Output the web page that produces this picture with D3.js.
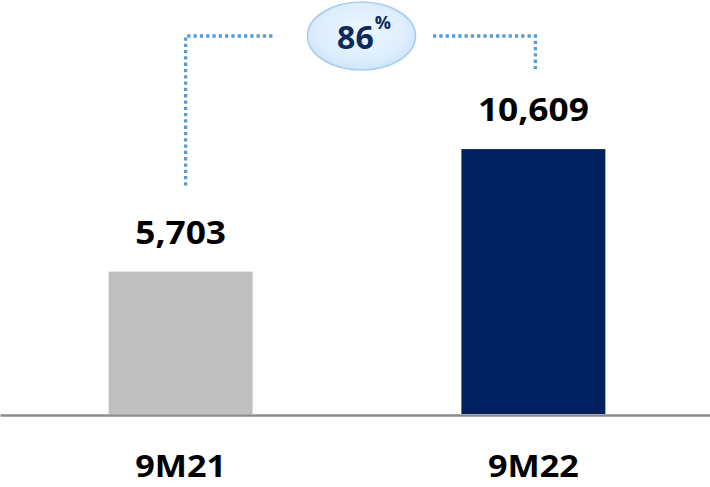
<!DOCTYPE html>
<html>
<head>
<meta charset="utf-8">
<script src="https://cdn.jsdelivr.net/npm/d3@7"></script>
<style>
  html, body { margin: 0; padding: 0; background: #fff; }
  svg { display: block; }
  text { font-family: "Open Sans", "Liberation Sans", sans-serif; font-weight: 700; }
</style>
</head>
<body>
<svg id="chart" width="710" height="487"></svg>
<script>
// Nine-month totals
const periods = ["9M21", "9M22"];
const totals = [5703, 10609];
const barColors = ["#bfbfbf", "#00205f"];

const W = 710, H = 487;
const baseY = 414;
const svg = d3.select("#chart");

const x = d3.scaleBand()
  .domain(periods)
  .range([0, 714])
  .paddingInner(0.592)
  .paddingOuter(0.308);

const y = d3.scaleLinear()
  .domain([0, 16580])
  .range([baseY, 0]);

const fmt = d3.format(",");
const stretch = 1.12;

// widen a bold label horizontally around its anchor
function widen(sel) {
  sel.each(function () {
    const w = this.getComputedTextLength();
    d3.select(this)
      .attr("textLength", w * stretch)
      .attr("lengthAdjust", "spacingAndGlyphs");
  });
}

const data = periods.map((p, i) => ({ period: p, value: totals[i], color: barColors[i] }));

// bars
svg.selectAll("rect.bar")
  .data(data)
  .join("rect")
  .attr("class", "bar")
  .attr("x", d => x(d.period))
  .attr("width", x.bandwidth())
  .attr("y", d => y(d.value))
  .attr("height", d => baseY - y(d.value))
  .attr("fill", d => d.color);

// baseline axis
const axis = svg.append("g")
  .attr("transform", `translate(0,${baseY + 1})`)
  .call(d3.axisBottom(d3.scaleLinear().range([0, W])).ticks(0).tickSize(0).tickFormat(""));
axis.select(".domain").attr("stroke", "#8c8c8c").attr("stroke-width", 2.6);

// value labels
svg.selectAll("text.value")
  .data(data)
  .join("text")
  .attr("class", "value")
  .attr("x", d => x(d.period) + x.bandwidth() / 2)
  .attr("y", d => y(d.value) - 28)
  .attr("text-anchor", "middle")
  .attr("font-size", 31.5)
  .attr("fill", "#000")
  .text(d => fmt(d.value))
  .call(widen);

// category labels
svg.selectAll("text.cat")
  .data(data)
  .join("text")
  .attr("class", "cat")
  .attr("x", d => x(d.period) + x.bandwidth() / 2)
  .attr("y", 477)
  .attr("text-anchor", "middle")
  .attr("font-size", 30.5)
  .attr("fill", "#000")
  .text(d => d.period)
  .call(widen);

// growth connector
const growth = Math.round((totals[1] / totals[0] - 1) * 100);
const cx0 = x(periods[0]) + x.bandwidth() / 2 + 5;
const cx1 = x(periods[1]) + x.bandwidth() / 2 + 2;
const topY = 36;
const bubbleX = 361.5;
const bubbleRx = 54, bubbleRy = 34;

const dotStyle = g => g
  .attr("fill", "none")
  .attr("stroke", "#5b9bd5")
  .attr("stroke-width", 3.3)
  .attr("stroke-dasharray", "3.3 3");

svg.append("path")
  .attr("d", d3.line()([[cx0, y(totals[0]) - 86], [cx0, topY], [275, topY]]))
  .call(dotStyle);
svg.append("path")
  .attr("d", d3.line()([[433, topY], [cx1, topY], [cx1, y(totals[1]) - 80]]))
  .call(dotStyle);

const defs = svg.append("defs");
const grad = defs.append("radialGradient").attr("id", "bubbleFill")
  .attr("cx", "50%").attr("cy", "45%").attr("r", "60%");
grad.append("stop").attr("offset", "0%").attr("stop-color", "#eef7ff");
grad.append("stop").attr("offset", "70%").attr("stop-color", "#dcedfc");
grad.append("stop").attr("offset", "100%").attr("stop-color", "#c9e2f8");

svg.append("ellipse")
  .attr("cx", bubbleX)
  .attr("cy", topY)
  .attr("rx", bubbleRx)
  .attr("ry", bubbleRy)
  .attr("fill", "url(#bubbleFill)")
  .attr("stroke", "#a9cdf0")
  .attr("stroke-width", 1.6);

const g = svg.append("text")
  .attr("x", 364)
  .attr("y", 49)
  .attr("text-anchor", "middle")
  .attr("fill", "#0b2a5e");
g.append("tspan").attr("font-size", 32).text(growth);
g.append("tspan").attr("font-size", 18).attr("dy", -20).attr("dx", 1).text("%");
</script>
</body>
</html>
